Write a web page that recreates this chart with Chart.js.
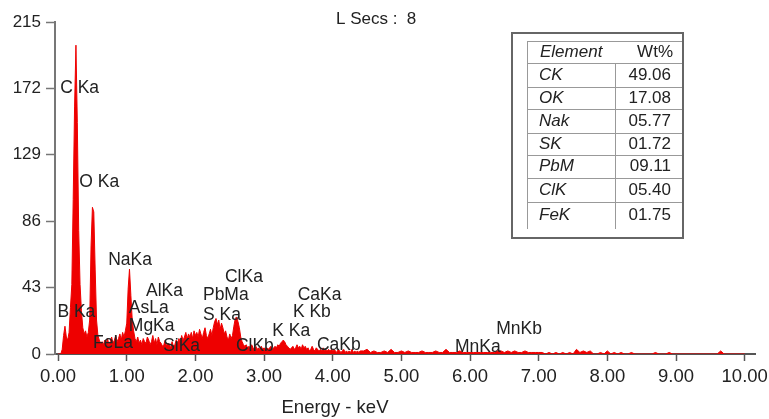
<!DOCTYPE html>
<html>
<head>
<meta charset="utf-8">
<script src="https://cdn.jsdelivr.net/npm/chart.js@4.4.1/dist/chart.umd.min.js"></script>
<style>
  html, body { margin: 0; padding: 0; background: #fff; }
  #wrap { position: relative; width: 769px; height: 419px; }
</style>
</head>
<body>
<div id="wrap"><canvas id="myChart" width="769" height="419"></canvas></div>
<script>
// spectrum counts, channels of 0.02 keV from 0.00 to 4.40 keV
const lowStart = 0;
const lowStep = 0.02;
const countsLow = [
  0, 0, 0, 3, 12, 18, 11, 9, 14, 30,
  45, 100, 160, 200, 150, 80, 45, 28, 17, 13,
  15, 11, 14, 22, 70, 95, 92, 55, 22, 12,
  9, 7, 8, 6, 9, 7, 10, 6, 8, 11,
  7, 9, 12, 8, 10, 13, 9, 14, 11, 15,
  20, 42, 55, 38, 22, 15, 10, 8, 11, 7,
  9, 6, 10, 8, 7, 11, 9, 6, 8, 12,
  7, 10, 6, 11, 8, 7, 5, 6, 9, 5,
  7, 6, 4, 8, 5, 6, 9, 7, 10, 8,
  12, 9, 11, 14, 10, 13, 11, 14, 10, 15,
  12, 14, 11, 16, 13, 10, 14, 17, 12, 10,
  13, 16, 12, 17, 21, 23, 19, 22, 16, 20,
  17, 13, 15, 11, 9, 13, 10, 12, 18, 23,
  24, 21, 17, 11, 8, 6, 5, 6, 4, 5,
  4, 6, 4, 3, 5, 3, 4, 3, 5, 3,
  4, 3, 4, 3, 4, 5, 3, 4, 5, 4,
  6, 5, 7, 8, 9, 8, 6, 5, 4, 3,
  4, 5, 3, 4, 6, 4, 5, 3, 6, 4,
  5, 3, 4, 2, 3, 5, 3, 2, 4, 3,
  2, 3, 2, 4, 2, 3, 2, 3, 2, 3,
  2, 3, 2, 1, 3, 2, 1, 2, 3, 1,
  2, 1, 2, 1, 3, 1, 2, 1, 2, 1,
  2
];
// tail, channels of 0.05 keV from 4.45 to 10.00 keV
const highStart = 4.45;
const highStep = 0.05;
const countsHigh = [
  2, 3, 1, 2, 1, 1, 2, 1, 3, 1,
  1, 2, 1, 2, 1, 1, 1, 2, 1, 1,
  1, 2, 1, 1, 3, 1, 1, 1, 2, 1,
  1, 1, 1, 1, 1, 1, 1, 1, 1, 2,
  2, 1, 2, 1, 2, 1, 1, 2, 1, 1,
  1, 1, 1, 0, 1, 0, 1, 0, 1, 0,
  1, 0, 3, 1, 2, 1, 2, 0, 0, 1,
  0, 2, 0, 1, 0, 1, 0, 0, 1, 0,
  0, 0, 0, 0, 0, 1, 0, 0, 0, 1,
  0, 0, 0, 0, 0, 0, 0, 0, 0, 0,
  0, 0, 0, 0, 2, 0, 0, 0, 0, 0,
  0, 0
];

const xTicks = [0, 1, 2, 3, 4, 5, 6, 7, 8, 9, 10];
const yTicks = [0, 43, 86, 129, 172, 215];

// peak labels (energy keV, counts where the text sits)
const peakNames = ["C Ka", "O Ka", "B Ka", "NaKa", "AlKa", "AsLa", "MgKa", "FeLa", "SiKa",
  "PbMa", "S Ka", "ClKa", "ClKb", "K Ka", "K Kb", "CaKa", "CaKb", "MnKa", "MnKb"];
const peakLabelE = [0.03, 0.31, -0.01, 0.73, 1.28, 1.03, 1.03, 0.51, 1.53,
  2.11, 2.11, 2.43, 2.59, 3.12, 3.42, 3.49, 3.77, 5.78, 6.38];
const peakLabelC = [172, 111, 27, 61, 41, 30, 18, 7, 5,
  38, 25, 50, 5, 15, 27, 38, 6, 4.5, 16];

// composition table
const elements = ["CK", "OK", "Nak", "SK", "PbM", "ClK", "FeK"];
const wtPercent = ["49.06", "17.08", "05.77", "01.72", "09.11", "05.40", "01.75"];

const points = [];
for (let i = 0; i < countsLow.length; i++) {
  points.push({ x: +(lowStart + i * lowStep).toFixed(2), y: countsLow[i] });
}
for (let i = 0; i < countsHigh.length; i++) {
  points.push({ x: +(highStart + i * highStep).toFixed(2), y: countsHigh[i] });
}

const FONT = "'Liberation Sans', Arial, Helvetica, sans-serif";

const extrasPlugin = {
  id: "extras",
  afterDatasetsDraw(chart) {
    const ctx = chart.ctx;
    const xs = chart.scales.x;
    const ys = chart.scales.y;
    ctx.save();
    ctx.fillStyle = "#222";
    ctx.font = "17.5px " + FONT;
    ctx.textAlign = "left";
    ctx.textBaseline = "middle";
    for (let i = 0; i < peakNames.length; i++) {
      ctx.fillText(peakNames[i], xs.getPixelForValue(peakLabelE[i]), ys.getPixelForValue(peakLabelC[i]));
    }
    ctx.restore();
  },
  afterDraw(chart) {
    const ctx = chart.ctx;
    ctx.save();
    // header text
    ctx.fillStyle = "#222";
    ctx.font = "17px " + FONT;
    ctx.textBaseline = "middle";
    ctx.textAlign = "left";
    ctx.fillText("L Secs :  8", 336, 19);
    ctx.font = "18.5px " + FONT;
    ctx.textAlign = "center";
    ctx.fillText("Energy - keV", 335, 408);

    // table box
    ctx.strokeStyle = "#666";
    ctx.lineWidth = 2;
    ctx.strokeRect(512, 33, 171, 205);
    ctx.strokeStyle = "#999";
    ctx.lineWidth = 1;
    const rowLines = [41, 63, 87, 109, 133, 155, 178, 202];
    ctx.beginPath();
    rowLines.forEach(function (y) {
      ctx.moveTo(527, y + 0.5);
      ctx.lineTo(682, y + 0.5);
    });
    ctx.moveTo(527.5, 41);
    ctx.lineTo(527.5, 229);
    ctx.moveTo(615.5, 63);
    ctx.lineTo(615.5, 229);
    ctx.stroke();

    ctx.fillStyle = "#222";
    ctx.font = "italic 17px " + FONT;
    ctx.textAlign = "left";
    ctx.fillText("Element", 540, 52);
    ctx.font = "17px " + FONT;
    ctx.textAlign = "right";
    ctx.fillText("Wt%", 673, 52);
    const rowMid = [75, 98, 121, 144, 166, 190, 215];
    for (let i = 0; i < elements.length; i++) {
      ctx.font = "italic 17px " + FONT;
      ctx.textAlign = "left";
      ctx.fillText(elements[i], 539, rowMid[i]);
      ctx.font = "17px " + FONT;
      ctx.textAlign = "right";
      ctx.fillText(wtPercent[i], 671, rowMid[i]);
    }
    ctx.restore();
  }
};

Chart.defaults.font.family = FONT;
Chart.defaults.font.size = 17;
Chart.defaults.color = "#222";

new Chart("myChart", {
  type: "line",
  data: {
    datasets: [{
      data: points,
      fill: "origin",
      borderColor: "rgb(238,0,0)",
      backgroundColor: "rgb(238,0,0)",
      borderWidth: 1,
      pointRadius: 0,
      tension: 0
    }]
  },
  options: {
    responsive: false,
    animation: false,
    layout: { padding: { top: 22, right: 14, left: 0, bottom: 0 } },
    plugins: {
      legend: { display: false },
      tooltip: { enabled: false }
    },
    scales: {
      x: {
        type: "linear",
        min: -0.045,
        max: 10.15,
        afterBuildTicks: function (scale) {
          scale.ticks = xTicks.map(function (v) { return { value: v }; });
        },
        afterFit: function (scale) {
          scale.height = 65;
          scale.paddingLeft = 0;
          scale.paddingRight = 0;
        },
        ticks: {
          callback: function (v) { return v.toFixed(2); },
          font: { size: 18.5 },
          padding: 5,
          maxRotation: 0,
          autoSkip: false
        },
        grid: { drawOnChartArea: false, tickLength: 7, tickColor: "#555", tickWidth: 1.5 },
        border: { color: "#555", width: 2 }
      },
      y: {
        min: 0,
        max: 215,
        afterBuildTicks: function (scale) {
          scale.ticks = yTicks.map(function (v) { return { value: v }; });
        },
        afterFit: function (scale) { scale.width = 55; },
        ticks: { padding: 5 },
        grid: { drawOnChartArea: false, tickLength: 9, tickColor: "#777", tickWidth: 1.5 },
        border: { color: "#777", width: 2 }
      }
    }
  },
  plugins: [extrasPlugin]
});
</script>
</body>
</html>
